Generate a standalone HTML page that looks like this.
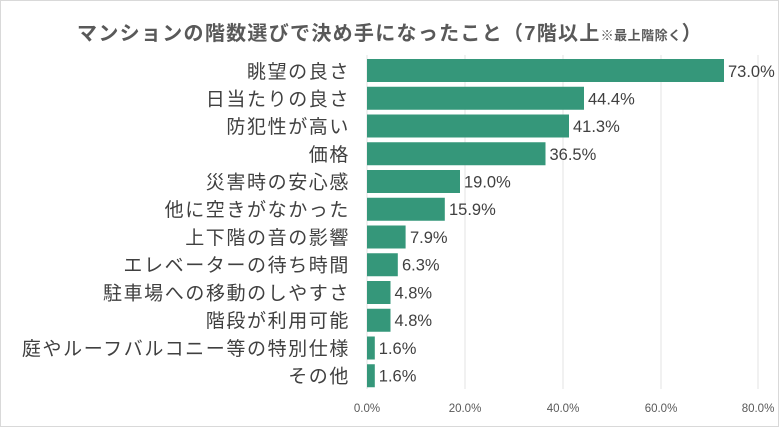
<!DOCTYPE html>
<html><head><meta charset="utf-8"><style>
body{margin:0;background:#fff;}
svg{display:block;font-family:"Liberation Sans","Noto Sans CJK JP",sans-serif;}
</style></head><body>
<svg width="780" height="437" viewBox="0 0 780 437">
<rect x="0.5" y="0.5" width="778" height="426" fill="#fff" stroke="#d9d9d9"/>
<text x="390" y="40" text-anchor="middle" font-size="20" font-weight="bold" fill="#595959" letter-spacing="1.3">マンションの階数選びで決め手になったこと（7階以上<tspan font-size="13" letter-spacing="0.5">※最上階除く</tspan>）</text>
<g stroke="#e3e3e3" stroke-width="1">
<line x1="367" y1="55" x2="367" y2="389"/><line x1="465" y1="55" x2="465" y2="389"/><line x1="563" y1="55" x2="563" y2="389"/><line x1="661" y1="55" x2="661" y2="389"/><line x1="758" y1="55" x2="758" y2="389"/>
</g>
<g font-size="11.5" fill="#595959" text-anchor="middle">
<text x="367" y="412">0.0%</text><text x="465" y="412">20.0%</text><text x="563" y="412">40.0%</text><text x="661" y="412">60.0%</text><text x="758" y="412">80.0%</text>
</g>
<g fill="#35977a">
<rect x="367" y="59" width="357" height="23"/>
<rect x="367" y="86.75" width="217" height="23"/>
<rect x="367" y="114.5" width="202" height="23"/>
<rect x="367" y="142.25" width="178.5" height="23"/>
<rect x="367" y="170" width="93" height="23"/>
<rect x="367" y="197.75" width="77.8" height="23"/>
<rect x="367" y="225.5" width="38.6" height="23"/>
<rect x="367" y="253.25" width="30.8" height="23"/>
<rect x="367" y="281" width="23.5" height="23"/>
<rect x="367" y="308.75" width="23.5" height="23"/>
<rect x="367" y="336.5" width="7.8" height="23"/>
<rect x="367" y="364.25" width="7.8" height="23"/>
</g>
<g font-size="16.5" fill="#404040">
<text x="728" y="77">73.0%</text>
<text x="588" y="104.5">44.4%</text>
<text x="573" y="132">41.3%</text>
<text x="549.5" y="160">36.5%</text>
<text x="464" y="187.5">19.0%</text>
<text x="449" y="215">15.9%</text>
<text x="410" y="243">7.9%</text>
<text x="402" y="270.5">6.3%</text>
<text x="394.5" y="298.5">4.8%</text>
<text x="394.5" y="326">4.8%</text>
<text x="378.8" y="354">1.6%</text>
<text x="378.8" y="381.5">1.6%</text>
</g>
<g font-size="19" fill="#404040" text-anchor="end" letter-spacing="1.6">
<text x="350" y="78">眺望の良さ</text>
<text x="350" y="105.5">日当たりの良さ</text>
<text x="350" y="133">防犯性が高い</text>
<text x="350" y="161">価格</text>
<text x="350" y="188.5">災害時の安心感</text>
<text x="350" y="216">他に空きがなかった</text>
<text x="350" y="244">上下階の音の影響</text>
<text x="350" y="271.5">エレベーターの待ち時間</text>
<text x="350" y="299.5">駐車場への移動のしやすさ</text>
<text x="350" y="327">階段が利用可能</text>
<text x="350" y="355">庭やルーフバルコニー等の特別仕様</text>
<text x="350" y="382.5">その他</text>
</g>
</svg>
</body></html>
